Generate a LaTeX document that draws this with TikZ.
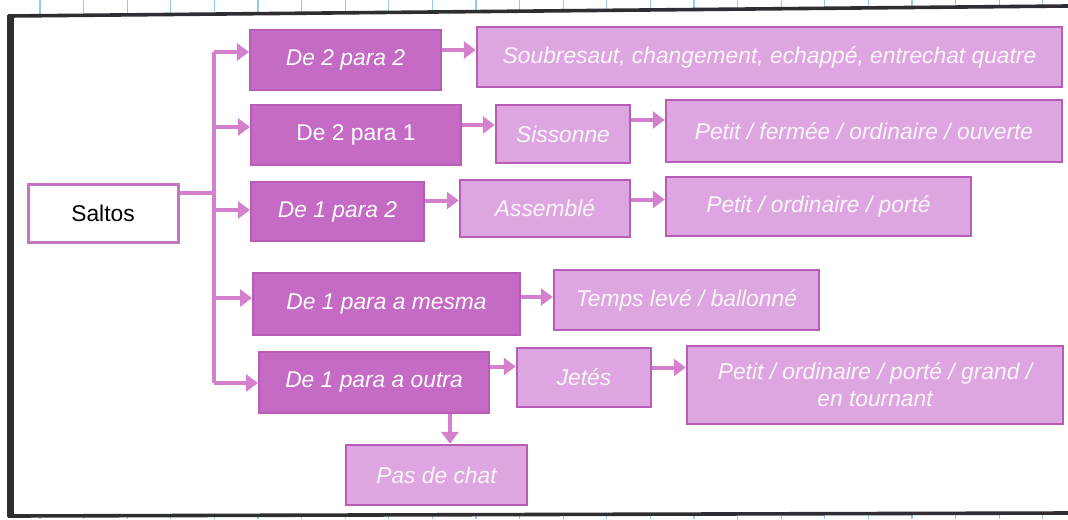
\documentclass[tikz,border=0pt]{standalone}
\usepackage{fontspec}
\setmainfont{Liberation Sans}
\usetikzlibrary{arrows.meta}
\definecolor{plum}{RGB}{197,106,197}
\definecolor{lilac}{RGB}{222,166,224}
\definecolor{plumline}{RGB}{184,92,184}
\definecolor{arrowpink}{RGB}{212,128,204}
\definecolor{gridblue}{RGB}{150,205,222}
\definecolor{framegray}{RGB}{45,45,50}
\begin{document}
\begin{tikzpicture}[x=0.5pt,y=-0.5pt,
  darkbox/.style={draw=plumline, line width=1pt, fill=plum, text=white, font=\fontsize{11.4}{13}\selectfont\itshape, inner sep=0pt},
  lightbox/.style={draw=plumline, line width=1.2pt, fill=lilac, text=white!94!plum, font=\fontsize{11.4}{13.5}\selectfont\itshape, align=center, inner sep=0pt},
  rootbox/.style={draw=plumline!85, line width=1.5pt, fill=white, font=\fontsize{11.4}{13}\selectfont, inner sep=0pt},
  link/.style={arrowpink, line width=2pt},
  arr/.style={link, -{Triangle[width=8.5pt,length=6pt]}}]
\useasboundingbox [fill=white] (0,0) rectangle (1068,519);
\foreach \x in {0,...,23} {
  \draw [gridblue, line width=0.6pt] ({40+43.6*\x},0) -- ({40+43.6*\x},{16-10*(30+43.6*\x)/1058});
  \draw [gridblue, line width=0.6pt] ({40+43.6*\x},{516-3*(30+43.6*\x)/1058}) -- ({40+43.6*\x},519);
}
\draw [framegray, line width=1.8pt] (1068,6) -- (10,16) -- (10,516) -- (1068,513);
\draw [framegray, line width=3.5pt] (10,15) -- (10,517);

\node[rootbox, minimum width=75pt, minimum height=29pt] (saltos) at (103,213) {Saltos};
\node[darkbox, minimum width=95.5pt, minimum height=30pt] (d22) at (345.5,60) {De 2 para 2};
\node[darkbox, font=\fontsize{11.4}{13}\selectfont, minimum width=105pt, minimum height=30pt] (d21) at (356,135) {De 2 para 1};
\node[darkbox, minimum width=86.5pt, minimum height=29.5pt] (d12) at (337.5,211.5) {De 1 para 2};
\node[darkbox, minimum width=133.5pt, minimum height=31pt] (d1m) at (386.5,304) {De 1 para a mesma};
\node[darkbox, minimum width=115pt, minimum height=30.5pt] (d1o) at (374,382.5) {De 1 para a outra};
\node[lightbox, minimum width=90.5pt, minimum height=30pt] (chat) at (436.5,475) {Pas de chat};
\node[lightbox, minimum width=292.5pt, minimum height=30pt] (soub) at (769.5,57) {Soubresaut, changement, echappé, entrechat quatre};
\node[lightbox, minimum width=67pt, minimum height=29pt] (siss) at (563,134) {Sissonne};
\node[lightbox, minimum width=198pt, minimum height=31pt] (sissvar) at (864,131) {Petit / fermée / ordinaire / ouverte};
\node[lightbox, minimum width=85pt, minimum height=28.5pt] (assem) at (545,208.5) {Assemblé};
\node[lightbox, minimum width=152.5pt, minimum height=29.5pt] (assemvar) at (818.5,206.5) {Petit / ordinaire / porté};
\node[lightbox, minimum width=132.5pt, minimum height=30pt] (temps) at (686.5,300) {Temps levé / ballonné};
\node[lightbox, minimum width=67pt, minimum height=29.5pt] (jete) at (584,377.5) {Jetés};
\node[lightbox, minimum width=188pt, minimum height=39pt] (jetevar) at (875,385) {Petit / ordinaire / porté / grand /\\ en tournant};

\coordinate (s0) at (214,193);
\coordinate (t1) at (214,52);
\coordinate (t2) at (214,127);
\coordinate (t3) at (214,210);
\coordinate (t4) at (214,298);
\coordinate (t5) at (214,383);
\draw[link] (s0 -| saltos.east) -- (s0);
\draw[link] (t1) -- (t5);
\foreach \c/\n in {t1/d22,t2/d21,t3/d12,t4/d1m,t5/d1o}
  \draw[arr] (\c) -- (\c -| \n.west);

\draw[arr] ([yshift=5pt]d22.east) -- ([yshift=5pt]d22.east -| soub.west);
\draw[arr] ([yshift=5pt]d21.east) -- ([yshift=5pt]d21.east -| siss.west);
\draw[arr] ([yshift=7pt]siss.east) -- ([yshift=7pt]siss.east -| sissvar.west);
\draw[arr] ([yshift=5.5pt]d12.east) -- ([yshift=5.5pt]d12.east -| assem.west);
\draw[arr] ([yshift=4.5pt]assem.east) -- ([yshift=4.5pt]assem.east -| assemvar.west);
\draw[arr] ([yshift=3.5pt]d1m.east) -- ([yshift=3.5pt]d1m.east -| temps.west);
\draw[arr] ([yshift=8pt]d1o.east) -- ([yshift=8pt]d1o.east -| jete.west);
\draw[arr] ([yshift=5pt]jete.east) -- ([yshift=5pt]jete.east -| jetevar.west);
\draw[arr] ([xshift=6.75pt]chat.north |- d1o.south) -- ([xshift=6.75pt]chat.north);
\end{tikzpicture}
\end{document}
